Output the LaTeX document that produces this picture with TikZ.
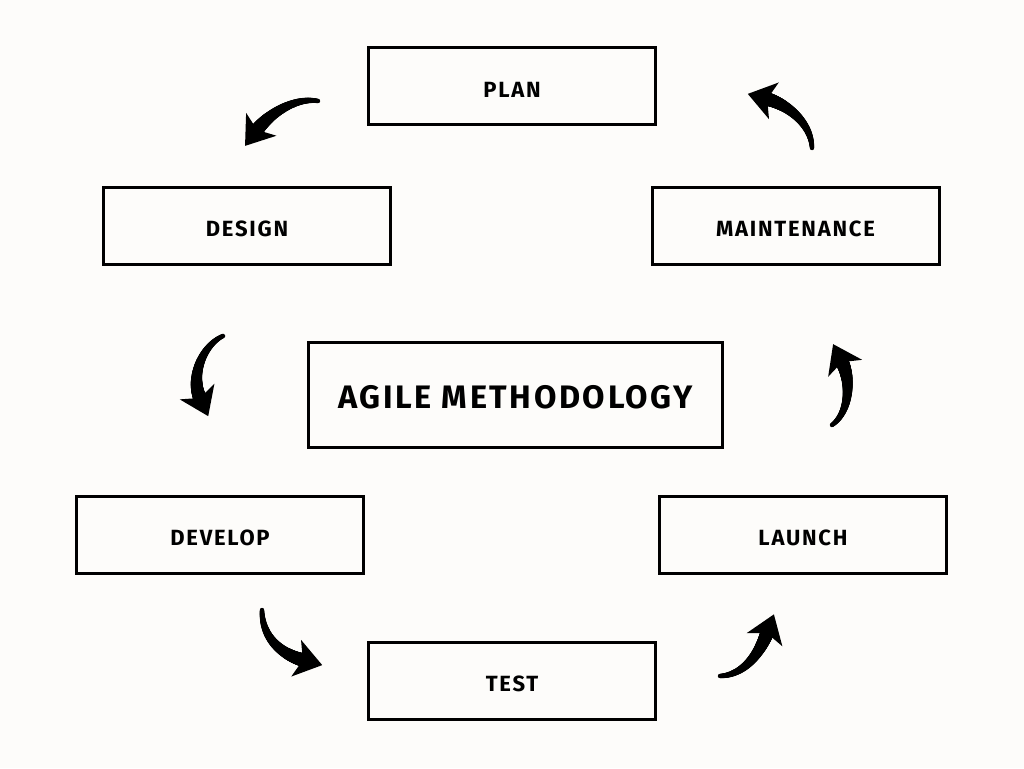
\documentclass[tikz,border=0pt]{standalone}
\usepackage{fontspec}
\setmainfont{Fira Sans}
\newfontfamily\stagefont{Fira Sans}[LetterSpace=8]
\usetikzlibrary{decorations.markings}

\definecolor{paper}{HTML}{FDFCFA}

\tikzset{
  stage/.style={draw, line width=3pt, minimum width=287pt, minimum height=77pt, inner sep=0pt,
    text height=22pt, text depth=0pt,
    font=\stagefont\bfseries\fontsize{22}{22}\selectfont},
  hub/.style={stage, minimum width=414pt, minimum height=105pt, text height=26pt,
    font=\stagefont\bfseries\fontsize{32.5}{32.5}\selectfont},
  brush/.style={postaction={decorate}, decoration={markings,
    mark=between positions 0 and 1 step 0.6pt with {
      \pgfmathsetmacro\brushr{2.2+4.6*\pgfkeysvalueof{/pgf/decoration/mark info/distance from start}/\pgfdecoratedpathlength}
      \fill (0,0) circle (\brushr pt);},
    mark=at position 1 with {\fill (20pt,0pt) -- (-7pt,19pt) -- (0pt,0pt) -- (-7pt,-19pt) -- cycle;}}}
}

\begin{document}
\begin{tikzpicture}[x=1pt, y=-1pt]
  \fill[paper] (0,0) rectangle (1024,768);

  % stages
  \node[stage] (plan) at (512,86) {PLAN};
  \node[stage] (design) at (247,225.5) {DESIGN};
  \node[stage] (maint) at (795.5,225.5) {MAINTENANCE};
  \node[hub] (agile) at (515.5,395) {AGILE METHODOLOGY};
  \node[stage] (develop) at (220,534.5) {DEVELOP};
  \node[stage] (launch) at (803,534.5) {LAUNCH};
  \node[stage] (test) at (512,680.5) {TEST};

  % arrow ends
  \coordinate (plan-out) at (318,101);
  \coordinate (design-in) at (257,130);
  \coordinate (design-out) at (223,336);
  \coordinate (develop-in) at (200,398);
  \coordinate (develop-out) at (262,610);
  \coordinate (test-in) at (303,660);
  \coordinate (test-out) at (720,676);
  \coordinate (launch-in) at (767,633);
  \coordinate (launch-out) at (832,425);
  \coordinate (maint-in) at (842,362);
  \coordinate (maint-out) at (812,148);
  \coordinate (plan-in) at (767,99);

  % brush arrows
  \path[brush] (plan-out) .. controls (295,97) and (269,114) .. (design-in);
  \path[brush] (design-out) .. controls (203,345) and (190,376) .. (develop-in);
  \path[brush] (develop-out) .. controls (262,640) and (284,655) .. (test-in);
  \path[brush] (test-out) .. controls (745,675) and (760,652) .. (launch-in);
  \path[brush] (launch-out) .. controls (850,412) and (851,380) .. (maint-in);
  \path[brush] (maint-out) .. controls (811,122) and (786,104) .. (plan-in);
\end{tikzpicture}
\end{document}
